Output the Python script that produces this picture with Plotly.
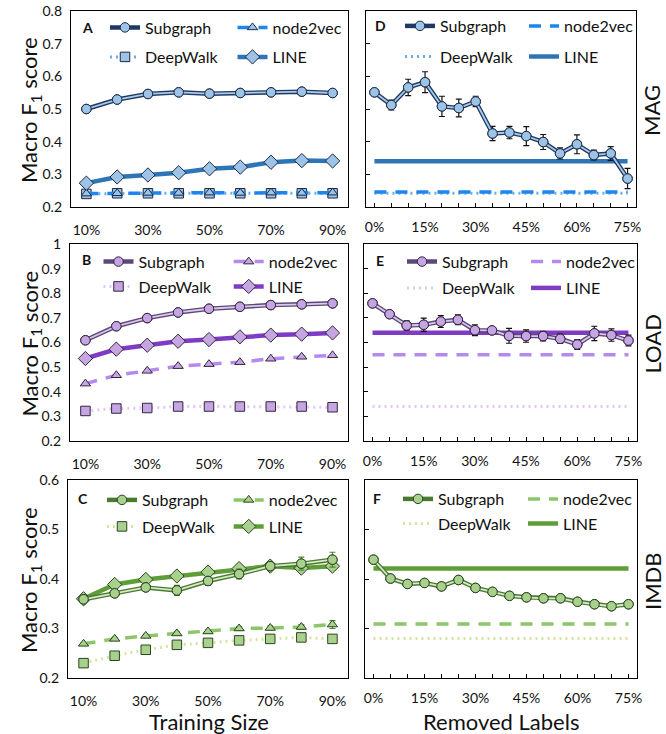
import plotly.graph_objects as go

# ---------------- data ----------------
TRAIN = ["10%", "20%", "30%", "40%", "50%", "60%", "70%", "80%", "90%"]
TRAIN_TICKS = ["10%", "30%", "50%", "70%", "90%"]
REMOVED = ["0%", "5%", "10%", "15%", "20%", "25%", "30%", "35%", "40%",
           "45%", "50%", "55%", "60%", "65%", "70%", "75%"]
REMOVED_TICKS = ["0%", "15%", "30%", "45%", "60%", "75%"]

# MAG, training size (panel A)
A_SUB = [0.500, 0.529, 0.546, 0.551, 0.547, 0.549, 0.551, 0.553, 0.549]
A_N2V = [0.241, 0.242, 0.243, 0.243, 0.244, 0.243, 0.244, 0.243, 0.244]
A_DW = [0.240, 0.242, 0.242, 0.242, 0.242, 0.242, 0.242, 0.242, 0.242]
A_LINE = [0.273, 0.292, 0.298, 0.305, 0.317, 0.322, 0.337, 0.342, 0.341]

# MAG, removed labels (panel D)
D_SUB = [0.551, 0.512, 0.566, 0.582, 0.508, 0.503, 0.523, 0.425, 0.428,
         0.417, 0.399, 0.364, 0.392, 0.359, 0.364, 0.287]
D_SUB_ERR = [0.000, 0.015, 0.025, 0.032, 0.031, 0.027, 0.016, 0.022, 0.019,
             0.029, 0.023, 0.017, 0.029, 0.015, 0.021, 0.031]
D_N2V = 0.246
D_DW = 0.242
D_LINE = 0.340

# LOAD, training size (panel B)
B_SUB = [0.609, 0.666, 0.699, 0.722, 0.737, 0.745, 0.752, 0.755, 0.759]
B_N2V = [0.433, 0.467, 0.485, 0.504, 0.512, 0.520, 0.534, 0.542, 0.548]
B_DW = [0.322, 0.332, 0.334, 0.340, 0.340, 0.340, 0.340, 0.340, 0.337]
B_LINE = [0.535, 0.573, 0.589, 0.605, 0.612, 0.623, 0.630, 0.634, 0.639]

# LOAD, removed labels (panel E)
E_SUB = [0.759, 0.715, 0.669, 0.672, 0.685, 0.692, 0.650, 0.649, 0.627,
         0.626, 0.626, 0.615, 0.592, 0.637, 0.630, 0.608]
E_SUB_ERR = [0.000, 0.014, 0.019, 0.027, 0.024, 0.020, 0.022, 0.012, 0.030,
             0.025, 0.019, 0.019, 0.020, 0.029, 0.025, 0.022]
E_N2V = 0.550
E_DW = 0.340
E_LINE = 0.640

# IMDB, training size (panel C)
C_SUB = [0.359, 0.371, 0.383, 0.377, 0.396, 0.410, 0.426, 0.431, 0.439]
C_SUB_ERR = [0.004, 0.006, 0.007, 0.010, 0.009, 0.010, 0.007, 0.013, 0.015]
C_N2V = [0.269, 0.279, 0.285, 0.290, 0.294, 0.300, 0.301, 0.303, 0.308]
C_N2V_ERR = [0.002, 0.003, 0.003, 0.003, 0.003, 0.004, 0.004, 0.005, 0.008]
C_DW = [0.230, 0.245, 0.257, 0.267, 0.271, 0.276, 0.279, 0.282, 0.279]
C_LINE = [0.360, 0.389, 0.399, 0.406, 0.414, 0.421, 0.426, 0.422, 0.426]
C_LINE_ERR = [0.004, 0.004, 0.004, 0.004, 0.004, 0.005, 0.006, 0.007, 0.008]

# IMDB, removed labels (panel F)
F_SUB = [0.439, 0.401, 0.390, 0.392, 0.385, 0.398, 0.382, 0.374, 0.366,
         0.363, 0.361, 0.361, 0.354, 0.349, 0.345, 0.349]
F_SUB_ERR = [0.005, 0.002, 0.002, 0.002, 0.002, 0.002, 0.002, 0.002, 0.002,
             0.002, 0.002, 0.002, 0.002, 0.002, 0.002, 0.002]
F_N2V = 0.309
F_DW = 0.280
F_LINE = 0.421

ROW_LABELS = ["MAG", "LOAD", "IMDB"]
PANEL_LETTERS = ["A", "D", "B", "E", "C", "F"]

# ---------------- styling ----------------
W, H = 666, 734
FONT = "Lato"

PAL = {
    "MAG": dict(dark="#1F3864", light="#A9CBEA", mfill="#9DC3E6", mline="#1B2A44",
                n2v="#1C86EE", dw="#6AAEE8", line="#2E75B6", err="#111111"),
    "LOAD": dict(dark="#5E4879", light="#DCC8EE", mfill="#C6A5E3", mline="#33253F",
                 n2v="#B48AEE", dw="#E2C6F7", line="#7E3CC4", err="#111111"),
    "IMDB": dict(dark="#4A7A30", light="#D6E9C8", mfill="#A9D18E", mline="#2B441E",
                 n2v="#8CC66A", dw="#D4E5A2", line="#5E9E38", err="#4E8A2E"),
}

fig = go.Figure()
legends = {}
_lc = [0]


def new_legend(text_x, cy):
    _lc[0] += 1
    n = _lc[0]
    name = "legend" if n == 1 else f"legend{n}"
    legends[name] = dict(x=(text_x - 40) / W, y=1 - cy / H, xanchor="left", yanchor="middle",
                         xref="paper", yref="paper", bgcolor="rgba(0,0,0,0)", borderwidth=0,
                         font=dict(family=FONT, size=16, color="#111111"), itemwidth=30)
    return name


def err(arr, color):
    if arr is None:
        return None
    return dict(type="data", array=arr, visible=True, color=color, thickness=1.2, width=3)


panels = [
    # A
    dict(kind="train", ds="MAG", sub=A_SUB, n2v=A_N2V, dw=A_DW, line=A_LINE,
         sub_err=None, n2v_err=None, line_err=None,
         xd=(71, 348), yd=(11, 207), yr=(0.2, 0.8),
         leg=[(145, 27.5), (272.5, 27.5), (145, 57), (272.5, 57)], letter=(87, 27.5)),
    # D
    dict(kind="removed", ds="MAG", sub=D_SUB, n2v=D_N2V, dw=D_DW, line=D_LINE,
         sub_err=D_SUB_ERR, xd=(366, 636), yd=(11, 207), yr=(0.2, 0.8),
         yticks=[0.3, 0.4, 0.5, 0.6, 0.7],
         leg=[(440, 26), (564, 26), (440, 56.5), (564, 56.5)], letter=(380.5, 26)),
    # B
    dict(kind="train", ds="LOAD", sub=B_SUB, n2v=B_N2V, dw=B_DW, line=B_LINE,
         sub_err=None, n2v_err=None, line_err=None,
         xd=(70, 348), yd=(244, 441), yr=(0.2, 1.0),
         leg=[(138.5, 261.7), (268.7, 261.7), (138.5, 286.5), (268.7, 286.5)], letter=(86, 259.5)),
    # E
    dict(kind="removed", ds="LOAD", sub=E_SUB, n2v=E_N2V, dw=E_DW, line=E_LINE,
         sub_err=E_SUB_ERR, xd=(364, 637), yd=(244, 441), yr=(0.2, 1.0),
         yticks=[0.3, 0.4, 0.5, 0.6, 0.7, 0.8, 0.9],
         leg=[(442, 261.7), (566, 261.7), (442, 288), (566, 288)], letter=(380, 260.5)),
    # C
    dict(kind="train", ds="IMDB", sub=C_SUB, n2v=C_N2V, dw=C_DW, line=C_LINE,
         sub_err=C_SUB_ERR, n2v_err=C_N2V_ERR, line_err=C_LINE_ERR,
         xd=(68, 348), yd=(480, 678), yr=(0.2, 0.6),
         leg=[(142, 500), (268.7, 500), (142, 526.5), (268.7, 526.5)], letter=(82.5, 498)),
    # F
    dict(kind="removed", ds="IMDB", sub=F_SUB, n2v=F_N2V, dw=F_DW, line=F_LINE,
         sub_err=F_SUB_ERR, xd=(365, 637), yd=(480, 678), yr=(0.2, 0.6),
         yticks=[0.3, 0.4, 0.5],
         leg=[(438, 499), (563, 499), (438, 523.5), (563, 523.5)], letter=(377, 498)),
]

layout_axes = {}
annotations = []


def ann(text, px, py, size, angle=0):
    annotations.append(dict(text=text, x=px / W, y=1 - py / H, xref="paper", yref="paper",
                            xanchor="center", yanchor="middle", showarrow=False,
                            textangle=angle, font=dict(family=FONT, size=size, color="#111111")))


for i, p in enumerate(panels):
    k = i + 1
    xa = "x" if k == 1 else f"x{k}"
    ya = "y" if k == 1 else f"y{k}"
    xkey = "xaxis" if k == 1 else f"xaxis{k}"
    ykey = "yaxis" if k == 1 else f"yaxis{k}"
    c = PAL[p["ds"]]
    lg_sub, lg_n2v, lg_dw, lg_line = [new_legend(tx, cy) for tx, cy in p["leg"]]

    if p["kind"] == "train":
        xs = TRAIN
        dw_y, n2v_y, line_y = p["dw"], p["n2v"], p["line"]
        base_mode = "lines+markers"
    else:
        xs = REMOVED
        dw_y = [p["dw"]] * len(REMOVED)
        n2v_y = [p["n2v"]] * len(REMOVED)
        line_y = [p["line"]] * len(REMOVED)
        base_mode = "lines"

    # DeepWalk
    fig.add_trace(go.Scatter(
        x=xs, y=dw_y, xaxis=xa, yaxis=ya, name="DeepWalk", legend=lg_dw, mode=base_mode,
        line=dict(color=c["dw"], width=3, dash="2px,4px"),
        marker=dict(symbol="square", size=9.5, color=c["mfill"], line=dict(color=c["mline"], width=1)),
    ))
    # node2vec
    fig.add_trace(go.Scatter(
        x=xs, y=n2v_y, xaxis=xa, yaxis=ya, name="node2vec", legend=lg_n2v, mode=base_mode,
        line=dict(color=c["n2v"], width=3.5, dash="12px,9px"),
        marker=dict(symbol="triangle-up", size=9, color=c["mfill"], line=dict(color=c["mline"], width=1)),
        error_y=err(p.get("n2v_err"), c["err"]),
    ))
    # LINE
    fig.add_trace(go.Scatter(
        x=xs, y=line_y, xaxis=xa, yaxis=ya, name="LINE", legend=lg_line, mode=base_mode,
        line=dict(color=c["line"], width=4.5),
        marker=dict(symbol="diamond", size=11, color=c["mfill"], line=dict(color=c["mline"], width=1)),
        error_y=err(p.get("line_err"), c["err"]),
    ))
    # Subgraph (double line: dark outer + light inner)
    fig.add_trace(go.Scatter(
        x=xs, y=p["sub"], xaxis=xa, yaxis=ya, name="Subgraph", legend=lg_sub, mode="lines+markers",
        line=dict(color=c["dark"], width=4.5),
        marker=dict(symbol="circle", size=9.5, color=c["mfill"], line=dict(color=c["mline"], width=1)),
        error_y=err(p.get("sub_err"), c["err"]),
    ))
    fig.add_trace(go.Scatter(
        x=xs, y=p["sub"], xaxis=xa, yaxis=ya, name="Subgraph", showlegend=False, mode="lines+markers",
        line=dict(color=c["light"], width=1.8),
        marker=dict(symbol="circle", size=9.5, color=c["mfill"], line=dict(color=c["mline"], width=1)),
        hoverinfo="skip",
    ))

    common_axis = dict(showline=True, mirror=True, linecolor="#000000", linewidth=1.3,
                       showgrid=False, zeroline=False, automargin=False,
                       tickfont=dict(family=FONT, size=14, color="#111111"))
    xd = (p["xd"][0] / W, p["xd"][1] / W)
    yd = (1 - p["yd"][1] / H, 1 - p["yd"][0] / H)

    if p["kind"] == "train":
        layout_axes[xkey] = dict(common_axis, domain=xd, anchor=ya, type="category",
                                 categoryorder="array", categoryarray=TRAIN,
                                 range=[-0.5, len(TRAIN) - 0.5], tickvals=TRAIN_TICKS,
                                 ticks="", ticklabelstandoff=10)
        layout_axes[ykey] = dict(common_axis, domain=yd, anchor=xa, range=list(p["yr"]),
                                 dtick=0.1, tick0=0.2, ticks="", ticklabelstandoff=5)
    else:
        layout_axes[xkey] = dict(common_axis, domain=xd, anchor=ya, type="category",
                                 categoryorder="array", categoryarray=REMOVED,
                                 range=[-0.5, len(REMOVED) - 0.5], tickvals=REMOVED,
                                 ticktext=[t if t in REMOVED_TICKS else "" for t in REMOVED],
                                 ticks="inside", ticklen=4, tickwidth=1, tickcolor="#000000",
                                 ticklabelstandoff=7)
        layout_axes[ykey] = dict(common_axis, domain=yd, anchor=xa, range=list(p["yr"]),
                                 tickvals=p["yticks"], ticks="inside", ticklen=4, tickwidth=1,
                                 tickcolor="#000000", showticklabels=False)

    lx, ly = p["letter"]
    ann(f"<b>{PANEL_LETTERS[i]}</b>", lx, ly, 14)

# y titles (left) and dataset labels (right)
for r, (top, bot) in enumerate([(11, 207), (244, 441), (480, 678)]):
    cy = (top + bot) / 2
    ann("Macro F<sub>1</sub> score", 30, cy + 1, 22, -90)
    ann(ROW_LABELS[r], 652, cy + 2, 22, -90)

ann("Training Size", 209, 721, 22)
ann("Removed Labels", 501, 721, 22)

fig.update_layout(
    width=W, height=H, margin=dict(l=0, r=0, t=0, b=0, autoexpand=False),
    paper_bgcolor="white", plot_bgcolor="white",
    font=dict(family=FONT, color="#111111"),
    annotations=annotations,
    **layout_axes, **legends,
)

fig.write_html("out.html", config={"displayModeBar": False},
               post_script="document.body.style.margin='0';document.body.style.overflow='hidden';")
